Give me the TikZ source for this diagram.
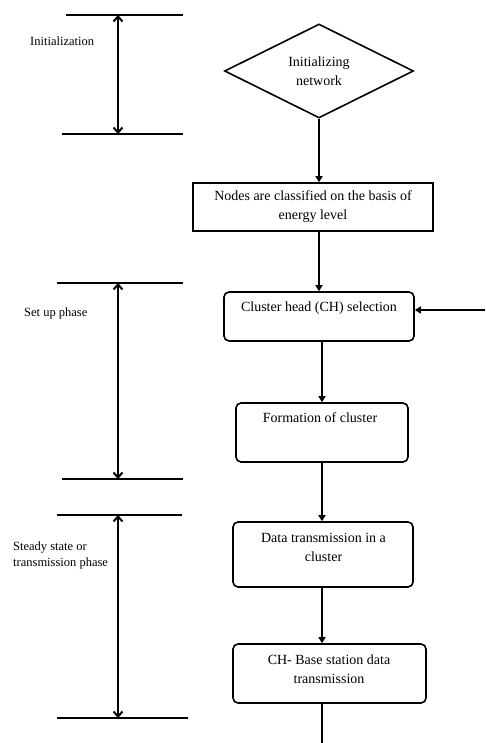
\documentclass[tikz,border=0pt]{standalone}
\usepackage{fontspec}
\setmainfont{Liberation Serif}
\usetikzlibrary{shapes.geometric,arrows.meta}

\begin{document}
\begin{tikzpicture}[x=1pt,y=-1pt,
	flow/.style={line width=2pt,-{Triangle[length=6pt,width=7pt]}},
	span/.style={line width=2pt,{Straight Barb[length=5pt,width=9pt]}-{Straight Barb[length=5pt,width=9pt]}},
	rule/.style={line width=2pt},
	sharpbox/.style={draw,line width=1.6pt,inner sep=0pt},
	roundbox/.style={sharpbox,rounded corners=5pt},
	boxtext/.style={align=center,inner sep=0pt,font=\fontsize{14}{19}\selectfont},
	phase/.style={anchor=west,align=left,inner sep=0pt,font=\fontsize{12.5}{16}\selectfont}]
	\useasboundingbox (0,0) rectangle (485,743);
	% phases on the left
	\draw [rule] (66,15) -- (183,15);
	\draw [rule] (62,134) -- (183,134);
	\draw [span] (118,15) -- (118,134);
	\node [phase] (init) at (30,41) {Initialization};
	\draw [rule] (57,283) -- (183,283);
	\draw [rule] (62,479) -- (183,479);
	\draw [span] (118,283) -- (118,479);
	\node [phase] (setup) at (24,313) {Set up phase};
	\draw [rule] (57,515) -- (182,515);
	\draw [rule] (57,718) -- (188,718);
	\draw [span] (118,515) -- (118,718);
	\node [phase] (steady) at (13,555) {Steady state or\\transmission phase};
	% flow chart
	\node [draw,diamond,aspect=2,line width=1.6pt,minimum width=189pt,minimum height=94pt,boxtext] (start) at (319,71) {Initializing\\network};
	\node [sharpbox,boxtext,minimum width=240pt,minimum height=48pt] (cls) at (313,207) {Nodes are classified on the basis of\\energy level};
	\node [roundbox,minimum width=190pt,minimum height=49pt] (chsel) at (319,316.5) {};
	\node [boxtext] (chseltext) at (319,308.5) {Cluster head (CH) selection};
	\node [roundbox,minimum width=172pt,minimum height=59pt] (form) at (322,432.5) {};
	\node [boxtext] (formtext) at (320,418) {Formation of cluster};
	\node [roundbox,minimum width=180pt,minimum height=65pt] (data) at (323,554.5) {};
	\node [boxtext] (datatext) at (323.5,547.5) {Data transmission in a\\cluster};
	\node [roundbox,minimum width=193pt,minimum height=59pt] (base) at (329.5,673.5) {};
	\node [boxtext] (basetext) at (329,669.5) {CH- Base station data\\transmission};
	\coordinate (back) at (485,310);
	\coordinate (exit) at (322,743);
	\draw [flow] (start.south) -- (start.south |- cls.north);
	\draw [flow] (chsel.north |- cls.south) -- (chsel.north);
	\draw [flow] (back) -- (back -| chsel.east);
	\draw [flow] (form.north |- chsel.south) -- (form.north);
	\draw [flow] (form.south) -- (form.south |- data.north);
	\draw [flow] (form.south |- data.south) -- (form.south |- base.north);
	\draw [rule] (exit |- base.south) -- (exit);
\end{tikzpicture}
\end{document}
